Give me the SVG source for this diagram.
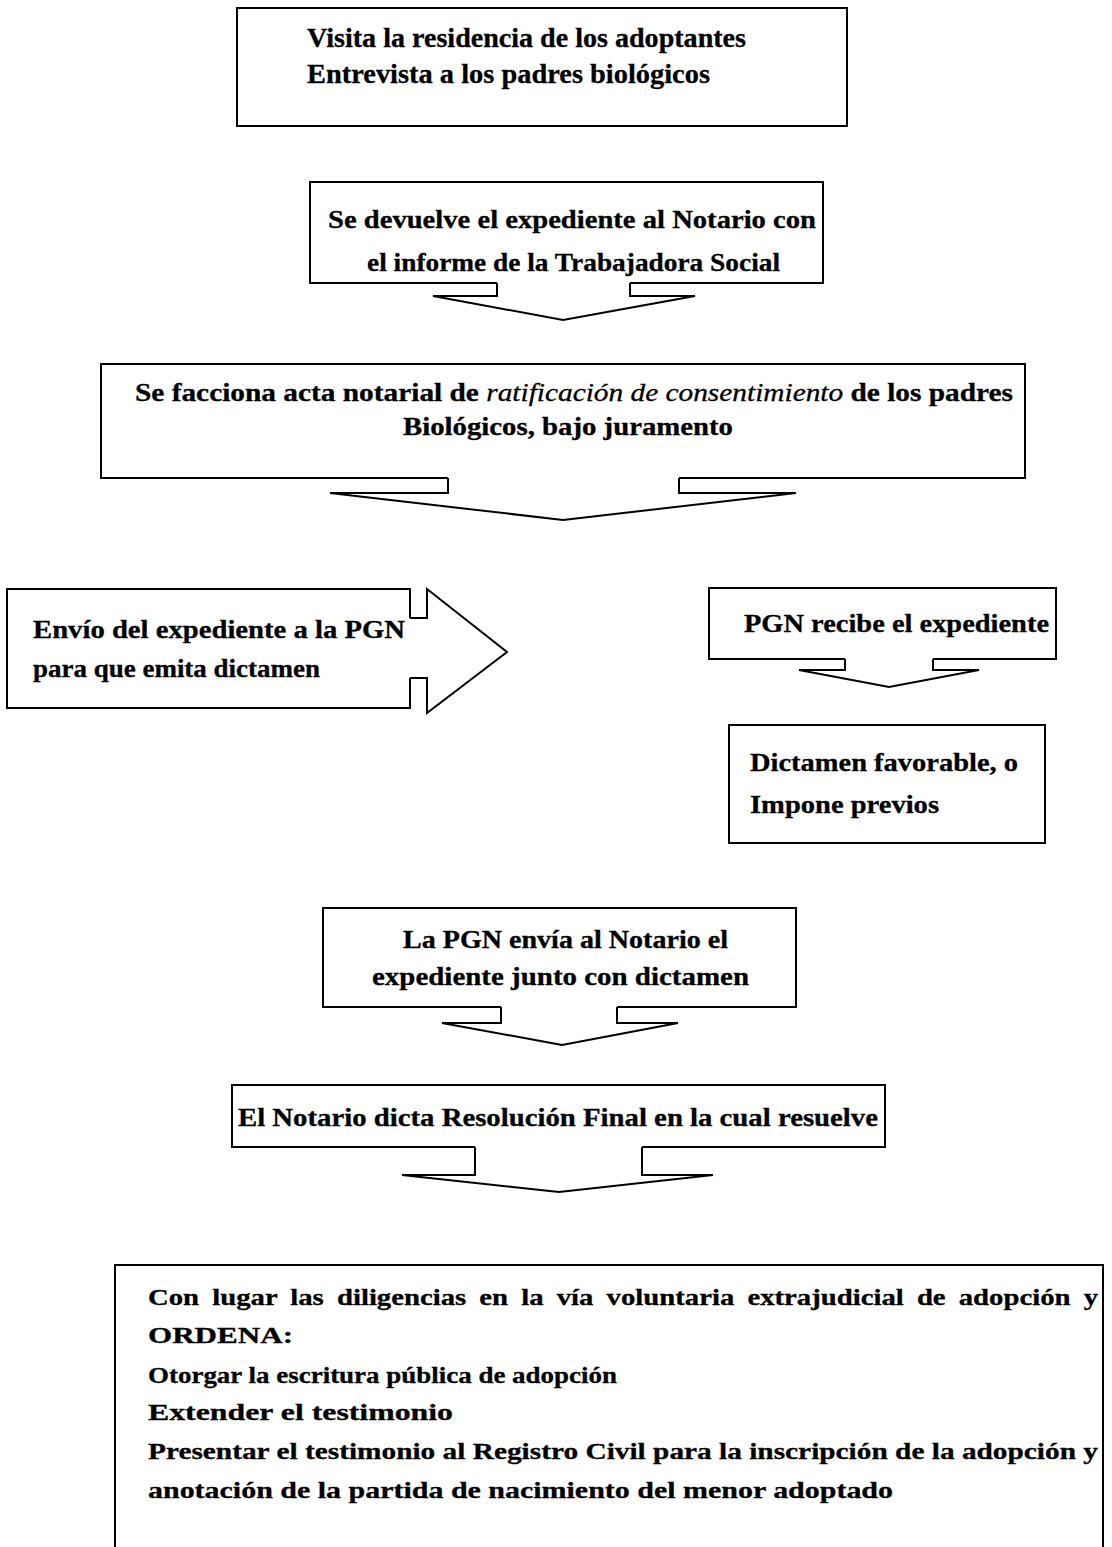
<svg xmlns="http://www.w3.org/2000/svg" width="1112" height="1547" viewBox="0 0 1112 1547">
<style>
.ln{fill:none;stroke:#000;stroke-width:2;stroke-linejoin:miter}
.t{font-family:"Liberation Serif","Times New Roman",serif;font-size:25px;font-weight:bold;fill:#000;stroke:#000;stroke-width:0.3}
.big{font-size:27px}
.sm{font-size:24px}
.i{font-style:italic;font-weight:normal}
</style>
<rect x="0" y="0" width="1112" height="1547" fill="#fff"/>
<g id="node1">
<rect class="ln" x="237" y="8" width="610" height="118"/>
<text class="t big" x="307" y="47" textLength="439" lengthAdjust="spacingAndGlyphs">Visita la residencia de los adoptantes</text>
<text class="t big" x="307" y="83" textLength="403" lengthAdjust="spacingAndGlyphs">Entrevista a los padres biológicos</text>
</g>
<g id="node2">
<path class="ln" d="M497,283 H310 V182 H823 V283 H630"/>
<text class="t" x="328" y="228" textLength="488" lengthAdjust="spacingAndGlyphs">Se devuelve el expediente al Notario con</text>
<text class="t" x="367" y="271" textLength="413" lengthAdjust="spacingAndGlyphs">el informe de la Trabajadora Social</text>
</g>
<g id="node3">
<path class="ln" d="M448,478 H101 V364 H1025 V478 H679"/>
<text class="t" x="135" y="401" textLength="878" lengthAdjust="spacingAndGlyphs">Se facciona acta notarial de <tspan class="i">ratificación de consentimiento</tspan> de los padres</text>
<text class="t" x="403" y="435" textLength="330" lengthAdjust="spacingAndGlyphs">Biológicos, bajo juramento</text>
</g>
<g id="node4">
<path class="ln" d="M410,618 V589 H7 V708 H410 V678"/>
<text class="t" x="33" y="638" textLength="372" lengthAdjust="spacingAndGlyphs">Envío del expediente a la PGN</text>
<text class="t" x="33" y="677" textLength="287" lengthAdjust="spacingAndGlyphs">para que emita dictamen</text>
</g>
<g id="node5">
<path class="ln" d="M845,659 H709 V588 H1056 V659 H933"/>
<text class="t" x="744" y="632" textLength="305" lengthAdjust="spacingAndGlyphs">PGN recibe el expediente</text>
</g>
<g id="node6">
<rect class="ln" x="729" y="725" width="316" height="118"/>
<text class="t" x="750" y="771" textLength="268" lengthAdjust="spacingAndGlyphs">Dictamen favorable, o</text>
<text class="t" x="750" y="813" textLength="189" lengthAdjust="spacingAndGlyphs">Impone previos</text>
</g>
<g id="node7">
<path class="ln" d="M501,1007 H323 V908 H796 V1007 H617"/>
<text class="t" x="403" y="948" textLength="325" lengthAdjust="spacingAndGlyphs">La PGN envía al Notario el</text>
<text class="t" x="372" y="985" textLength="377" lengthAdjust="spacingAndGlyphs">expediente junto con dictamen</text>
</g>
<g id="node8">
<path class="ln" d="M475,1147 H232 V1085 H885 V1147 H642"/>
<text class="t" x="238" y="1126" textLength="640" lengthAdjust="spacingAndGlyphs">El Notario dicta Resolución Final en la cual resuelve</text>
</g>
<g id="node9">
<path class="ln" d="M115,1560 V1265 H1103 V1560"/>
<text class="t sm" x="148" y="1305" textLength="950" lengthAdjust="spacingAndGlyphs" word-spacing="5">Con lugar las diligencias en la vía voluntaria extrajudicial de adopción y</text>
<text class="t sm" x="148" y="1343" textLength="145" lengthAdjust="spacingAndGlyphs">ORDENA:</text>
<text class="t sm" x="148" y="1383" textLength="469" lengthAdjust="spacingAndGlyphs">Otorgar la escritura pública de adopción</text>
<text class="t sm" x="148" y="1420" textLength="305" lengthAdjust="spacingAndGlyphs">Extender el testimonio</text>
<text class="t sm" x="148" y="1459" textLength="950" lengthAdjust="spacingAndGlyphs">Presentar el testimonio al Registro Civil para la inscripción de la adopción y</text>
<text class="t sm" x="148" y="1498" textLength="745" lengthAdjust="spacingAndGlyphs">anotación de la partida de nacimiento del menor adoptado</text>
</g>
<g id="connectors">
<path class="ln" d="M497,283 V296 H433 L563,320 L695,296 H630 V283"/>
<path class="ln" d="M448,478 V493 H330 L563,520 L796,493 H679 V478"/>
<path class="ln" d="M410,618 H427 V589 L507,652 L427,713 V678 H410"/>
<path class="ln" d="M845,659 V670 H799 L889,687 L979,670 H933 V659"/>
<path class="ln" d="M501,1007 V1023 H442 L562,1045 L678,1023 H617 V1007"/>
<path class="ln" d="M475,1147 V1175 H402 L559,1192 L713,1175 H642 V1147"/>
</g>
</svg>
